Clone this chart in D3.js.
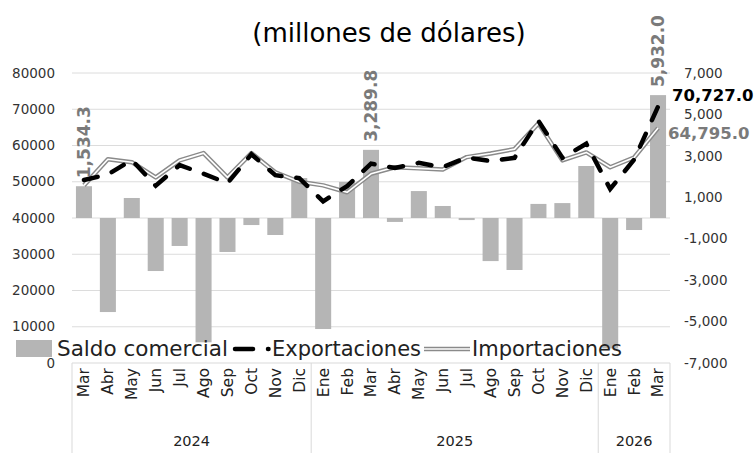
<!DOCTYPE html>
<html lang="es">
  <head>
    <meta charset="UTF-8" />
    <title>Saldo comercial</title>
    <style>
      body { margin: 0; background: #fff; }
      text { font-family: "Century Gothic", "DejaVu Sans", sans-serif; }
    </style>
  </head>
  <script src="https://d3js.org/d3.v7.min.js"></script>
  <body>
    <div id="chart"></div>
  </body>
  <script>
    // data (millones de dólares)
    const months = ["Mar", "Abr", "May", "Jun", "Jul", "Ago", "Sep", "Oct", "Nov", "Dic",
      "Ene", "Feb", "Mar", "Abr", "May", "Jun", "Jul", "Ago", "Sep", "Oct", "Nov", "Dic",
      "Ene", "Feb", "Mar"];
    const yearLabels = ["2024", "2025", "2026"];
    const yearCounts = [10, 12, 3];
    const saldo = [1534.3, -4540, 966, -2560, -1350, -6000, -1640, -340, -820, 1930,
      -5360, 1740, 3289.8, -190, 1300, 580, -100, -2080, -2510, 680, 720, 2510,
      -6300, -580, 5932.0];
    const exportaciones = [50500, 52000, 56000, 48900, 54600, 52200, 49600, 57600, 51800, 51000,
      44600, 48800, 55000, 53800, 55200, 54000, 56700, 55700, 56600, 66800, 56600, 60500,
      48000, 56100, 70727.0];
    const importaciones = [49000, 56200, 55400, 51200, 55900, 57900, 51200, 57900, 52600, 50000,
      49000, 47100, 52200, 54000, 53700, 53400, 56800, 57800, 59000, 66100, 55900, 58100,
      54000, 56700, 64795.0];
    const leftTicks = [0, 10000, 20000, 30000, 40000, 50000, 60000, 70000, 80000];
    const rightTicks = [-7000, -5000, -3000, -1000, 1000, 3000, 5000, 7000];
    const labelled = [0, 12, 24]; // bars with a value label

    const width = 754, height = 453;
    const plot = { left: 72, right: 670, top: 73, bottom: 363 };

    const svg = d3.select("#chart").append("svg")
      .attr("width", width).attr("height", height);

    const keys = months.map((m, i) => i);
    const x = d3.scaleBand().domain(keys)
      .range([plot.left, plot.right])
      .paddingInner(0.33).paddingOuter(0.165);
    const yL = d3.scaleLinear().domain([0, 80000]).range([plot.bottom, plot.top]);
    const yR = d3.scaleLinear().domain([-7000, 7000]).range([plot.bottom, plot.top]);
    const cx = (i) => x(i) + x.bandwidth() / 2;
    // excel style numbers, plain hyphen for negatives
    const fmt = (spec) => (v) => d3.format(spec)(v).replace("\u2212", "-");

    // title
    svg.append("text")
      .attr("x", 389).attr("y", 42)
      .attr("text-anchor", "middle")
      .style("font-size", "26px").style("fill", "#000")
      .text("(millones de dólares)");

    // gridlines
    svg.append("g").selectAll("line")
      .data(leftTicks.filter((d) => d > 0))
      .join("line")
      .attr("x1", plot.left).attr("x2", plot.right)
      .attr("y1", (d) => yL(d)).attr("y2", (d) => yL(d))
      .style("stroke", "#dcdcdc").style("stroke-width", 1);

    // left axis labels
    svg.append("g").selectAll("text")
      .data(leftTicks)
      .join("text")
      .attr("x", 55).attr("y", (d) => yL(d))
      .attr("dy", "0.35em").attr("text-anchor", "end")
      .style("font-size", "13.5px").style("fill", "#333")
      .text((d) => d);

    // right axis labels
    svg.append("g").selectAll("text")
      .data(rightTicks)
      .join("text")
      .attr("x", 684).attr("y", (d) => yR(d))
      .attr("dy", "0.35em").attr("text-anchor", "start")
      .style("font-size", "13.5px").style("fill", "#333")
      .text(fmt(","));

    // bars
    svg.append("g").selectAll("rect")
      .data(saldo)
      .join("rect")
      .attr("x", (d, i) => x(i))
      .attr("width", x.bandwidth())
      .attr("y", (d) => yR(Math.max(0, d)))
      .attr("height", (d) => Math.abs(yR(d) - yR(0)))
      .style("fill", "#b5b5b5");

    // bar labels
    svg.append("g").selectAll("text")
      .data(labelled)
      .join("text")
      .attr("transform", (i) => `translate(${cx(i)},${yR(saldo[i]) - 8}) rotate(-90)`)
      .attr("dy", "0.35em")
      .style("font-size", "17px").style("font-weight", "bold").style("fill", "#7a7a7a")
      .text((i) => fmt(",.1f")(saldo[i]));

    const line = d3.line().x((d, i) => cx(i)).y((d) => yL(d));

    // imports: double line
    svg.append("path").attr("d", line(importaciones))
      .style("fill", "none").style("stroke", "#8a8a8a").style("stroke-width", 4.5)
      .style("stroke-linejoin", "round");
    svg.append("path").attr("d", line(importaciones))
      .style("fill", "none").style("stroke", "#fff").style("stroke-width", 1.6)
      .style("stroke-linejoin", "round");

    // exports: long dash
    svg.append("path").attr("d", line(exportaciones))
      .style("fill", "none").style("stroke", "#000").style("stroke-width", 4.5)
      .style("stroke-dasharray", "14 15").style("stroke-linecap", "round");

    // end labels
    const last = months.length - 1;
    svg.append("text")
      .attr("x", cx(last) + 14).attr("y", yL(exportaciones[last]) - 11)
      .attr("dy", "0.35em")
      .style("font-size", "16.5px").style("font-weight", "bold").style("fill", "#000")
      .text(fmt(",.1f")(exportaciones[last]));
    svg.append("text")
      .attr("x", cx(last) + 10).attr("y", yL(importaciones[last]) + 5)
      .attr("dy", "0.35em")
      .style("font-size", "16.5px").style("font-weight", "bold").style("fill", "#7a7a7a")
      .text(fmt(",.1f")(importaciones[last]));

    // category axis: box and separators
    const axis = svg.append("g").style("stroke", "#d9d9d9").style("stroke-width", 1);
    axis.append("line")
      .attr("x1", plot.left).attr("x2", plot.right)
      .attr("y1", plot.bottom).attr("y2", plot.bottom);
    let acc = 0;
    const seps = [0];
    yearCounts.forEach((n) => { acc += n; seps.push(acc); });
    axis.selectAll("line.sep")
      .data(seps)
      .join("line")
      .attr("class", "sep")
      .attr("x1", (k) => plot.left + k * x.step())
      .attr("x2", (k) => plot.left + k * x.step())
      .attr("y1", plot.bottom).attr("y2", height);

    // month labels
    svg.append("g").selectAll("text")
      .data(months)
      .join("text")
      .attr("transform", (d, i) => `translate(${cx(i)},${plot.bottom + 5}) rotate(-90)`)
      .attr("dy", "0.35em").attr("text-anchor", "end")
      .style("font-size", "15.5px").style("fill", "#222")
      .text((d) => d);

    // year labels
    svg.append("g").selectAll("text")
      .data(yearLabels)
      .join("text")
      .attr("x", (d, i) => plot.left + (seps[i] + seps[i + 1]) / 2 * x.step())
      .attr("y", 446)
      .attr("text-anchor", "middle")
      .style("font-size", "14.5px").style("fill", "#222")
      .text((d) => d);

    // legend
    const legend = svg.append("g");
    legend.append("rect")
      .attr("x", 16).attr("y", 340).attr("width", 36).attr("height", 17)
      .style("fill", "#b5b5b5");
    legend.append("text")
      .attr("x", 57).attr("y", 356)
      .style("font-size", "21.5px").style("fill", "#222")
      .text("Saldo comercial");
    legend.append("line")
      .attr("x1", 235).attr("x2", 268.5).attr("y1", 349).attr("y2", 349)
      .style("stroke", "#000").style("stroke-width", 4.5)
      .style("stroke-dasharray", "18 15").style("stroke-linecap", "round");
    legend.append("text")
      .attr("x", 272).attr("y", 356)
      .style("font-size", "21px").style("fill", "#222")
      .text("Exportaciones");
    legend.append("line")
      .attr("x1", 424).attr("x2", 470).attr("y1", 349).attr("y2", 349)
      .style("stroke", "#8a8a8a").style("stroke-width", 4.5);
    legend.append("line")
      .attr("x1", 424).attr("x2", 470).attr("y1", 349).attr("y2", 349)
      .style("stroke", "#fff").style("stroke-width", 1.6);
    legend.append("text")
      .attr("x", 472).attr("y", 356)
      .style("font-size", "21px").style("fill", "#222")
      .text("Importaciones");
  </script>
</html>
